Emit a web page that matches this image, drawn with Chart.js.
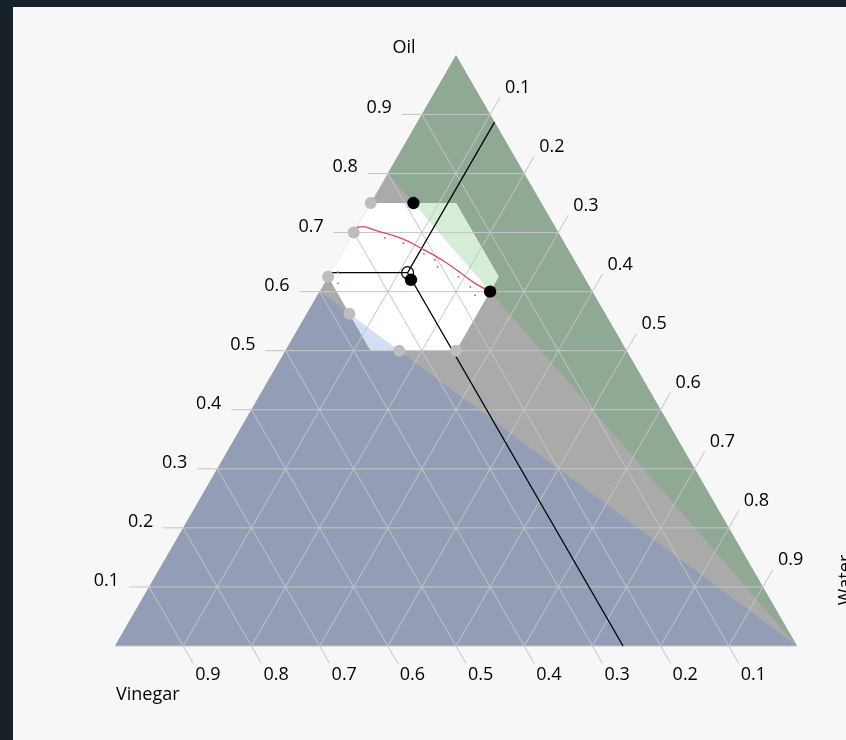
<!DOCTYPE html>
<html>
<head>
<meta charset="utf-8">
<title>Oil / Vinegar / Water</title>
<script src="https://cdn.jsdelivr.net/npm/chart.js@4/dist/chart.umd.min.js"></script>
<style>
  html, body { margin: 0; padding: 0; width: 846px; height: 740px; overflow: hidden; background: #17212a; }
  #panel { position: absolute; left: 13px; top: 7px; width: 833px; height: 733px; background: #f7f7f7; }
  canvas { display: block; }
</style>
</head>
<body>
<div id="panel"><canvas id="chart" width="833" height="733"></canvas></div>
<script>
// ---- data (mixture fractions: oil, water; vinegar = 1 - oil - water) ----
const tickValues = [0.1, 0.2, 0.3, 0.4, 0.5, 0.6, 0.7, 0.8, 0.9];
const tickLabels = ['0.1', '0.2', '0.3', '0.4', '0.5', '0.6', '0.7', '0.8', '0.9'];
const axisTitles = ['Oil', 'Vinegar', 'Water'];

// whole simplex: Oil, Water, Vinegar corners
const simplexOil   = [1, 0, 0];
const simplexWater = [0, 1, 0];
// low oil share of oil+vinegar (below 0.6)
const lowFanOil   = [0, 0.6, 0];
const lowFanWater = [0, 0, 1];
// high oil share of oil+vinegar (above 0.8)
const highFanOil   = [0.8, 1, 0];
const highFanWater = [0, 0, 1];

// constraint region: 0.5<=oil<=0.75, 0<=water<=0.25, 0.125<=vinegar<=0.375
const hexOil   = [0.75, 0.75, 0.625, 0.5, 0.5, 0.625];
const hexWater = [0, 0.125, 0.25, 0.25, 0.125, 0];
// parts of the constraint region inside the high / low fans
const hexHighOil   = [0.75, 0.75, 0.625, 0.6];
const hexHighWater = [0.0625, 0.125, 0.25, 0.25];
const hexLowOil    = [0.5625, 0.5, 0.5];
const hexLowWater  = [0.0625, 0.125, 0.1667];

// design runs
const designOil   = [0.75, 0.70, 0.625, 0.5625, 0.5, 0.5];
const designWater = [0, 0, 0, 0.0625, 0.1667, 0.25];
// selected blends
const blendOil   = [0.75, 0.6, 0.62];
const blendWater = [0.0625, 0.25, 0.124];
// read-off composition
const readOil = [0.632];
const readWater = [0.113];

// fitted contour and its scattered samples
const curveOil   = [0.709, 0.7095, 0.704, 0.690, 0.673, 0.654, 0.634, 0.614, 0.600];
const curveWater = [0, 0.012, 0.029, 0.075, 0.113, 0.152, 0.187, 0.221, 0.25];
const sampleOil   = [0.691, 0.682, 0.664, 0.654, 0.642, 0.625, 0.608, 0.594, 0.633, 0.614];
const sampleWater = [0.050, 0.082, 0.121, 0.142, 0.152, 0.191, 0.217, 0.231, 0.010, 0.020];

// ---- ternary -> cartesian ----
const H = Math.sqrt(3) / 2;
const pt = (o, w) => ({ x: w + o / 2, y: o * H });
const BREAK = { x: null, y: null };
const pts = (oils, waters) => oils.map((o, i) => pt(o, waters[i]));
const ring = (oils, waters) => { const d = pts(oils, waters); d.push(d[0]); return d; };

// ---- layout of the plot frame (pixels) ----
const CANVAS_W = 833, CANVAS_H = 733;
const SIDE = 682;            // triangle side length
const CORNER_X = 102;        // Vinegar corner
const CORNER_Y = 639;
const TICK = 20 / SIDE;      // tick length in composition units

// grid lines at every tick, plus the base edge
const gridData = [pt(0, 0), pt(0, 1), BREAK];
tickValues.forEach(t => {
  gridData.push(pt(t, 0), pt(t, 1 - t), BREAK);          // constant oil
  gridData.push(pt(0, t), pt(1 - t, t), BREAK);          // constant water
  gridData.push(pt(0, 1 - t), pt(1 - t, 0), BREAK);      // constant vinegar
});
// outward tick marks
const tickData = [];
tickValues.forEach(t => {
  tickData.push(pt(t, 0), pt(t, -TICK), BREAK);                      // oil, left side
  tickData.push(pt(1 - t, t), pt(1 - t + TICK, t), BREAK);           // water, right side
  tickData.push(pt(0, 1 - t), pt(-TICK, 1 - t + TICK), BREAK);       // vinegar, base
});
// read-off guide lines to the three sides
const ro = readOil[0], rw = readWater[0];
const guideData = [
  pt(0, ro + rw), pt(ro, rw), pt(1 - rw, rw), BREAK,
  pt(ro, 0), pt(ro, rw)
];

function area(data, color, order) {
  return { data, fill: 'shape', backgroundColor: color, borderColor: color,
           borderWidth: 0, pointRadius: 0, order };
}
function path(data, color, width, order, extra) {
  return Object.assign({ data, fill: false, borderColor: color, borderWidth: width,
           pointRadius: 0, spanGaps: false, order }, extra || {});
}
function dots(data, fillColor, radius, order, extra) {
  return Object.assign({ data, showLine: false, pointRadius: radius, pointBackgroundColor: fillColor,
           pointBorderColor: fillColor, pointBorderWidth: 0, order }, extra || {});
}

const FONT = '18px "Open Sans", "Noto Sans", sans-serif';

const ternaryAxes = {
  id: 'ternaryAxes',
  afterDatasetsDraw(chart) {
    const { ctx } = chart;
    const xs = chart.scales.x, ys = chart.scales.y;
    const px = (o, w) => [xs.getPixelForValue(w + o / 2), ys.getPixelForValue(o * H)];
    ctx.save();
    ctx.fillStyle = '#000';
    ctx.font = FONT;
    tickValues.forEach((t, i) => {
      let p = px(t, -TICK);
      ctx.textAlign = 'right'; ctx.textBaseline = 'alphabetic';
      ctx.fillText(tickLabels[i], p[0] - 10, p[1] - 1);
      p = px(1 - t + TICK, t);
      ctx.textAlign = 'left';
      ctx.fillText(tickLabels[i], p[0] + 5, p[1] - 4.5);
      p = px(-TICK, 1 - t + TICK);
      ctx.fillText(tickLabels[i], p[0] + 2, p[1] + 16.5);
    });
    // component titles next to their corners
    let p = px(1, 0);
    ctx.textAlign = 'center';
    ctx.fillText(axisTitles[0], p[0] - 52, p[1] - 2);
    p = px(0, 0);
    ctx.textAlign = 'left';
    ctx.fillText(axisTitles[1], p[0] + 1, p[1] + 54);
    p = px(0, 1);
    ctx.translate(p[0] + 54, p[1] - 66);
    ctx.rotate(-Math.PI / 2);
    ctx.textAlign = 'center';
    ctx.fillText(axisTitles[2], 0, 0);
    ctx.restore();
  }
};

new Chart(document.getElementById('chart'), {
  type: 'line',
  data: {
    datasets: [
      dots([pt(readOil[0], readWater[0])], 'rgba(0,0,0,0)', 6, 1,
           { pointBorderColor: '#000', pointBorderWidth: 1.2 }),
      dots(pts(blendOil, blendWater), '#000', 6.2, 2),
      dots(pts(designOil, designWater), '#bdbdbd', 6, 3),
      path(pts(curveOil, curveWater), '#e0485e', 1.3, 4, { tension: 0.4 }),
      dots(pts(sampleOil, sampleWater), '#e0485e', 0.9, 4),
      path(guideData, '#000', 1.3, 5),
      path(tickData, '#c3c3c3', 1, 10),
      path(gridData, '#c6c6c6', 1, 10),
      area(ring(hexHighOil, hexHighWater), '#d5edd6', 14),
      area(ring(hexLowOil, hexLowWater), '#d3ddf6', 14),
      area(ring(hexOil, hexWater), '#ffffff', 15),
      area(ring(highFanOil, highFanWater), '#8fa994', 20),
      area(ring(lowFanOil, lowFanWater), '#939db5', 20),
      area(ring(simplexOil, simplexWater), '#aaaaaa', 22)
    ]
  },
  options: {
    responsive: false,
    devicePixelRatio: 1,
    animation: false,
    events: [],
    layout: { padding: 0, autoPadding: false },
    scales: {
      x: { type: 'linear', display: false, bounds: 'data',
           min: -CORNER_X / SIDE, max: (CANVAS_W - CORNER_X) / SIDE },
      y: { type: 'linear', display: false, bounds: 'data',
           min: -(CANVAS_H - CORNER_Y) / SIDE, max: CORNER_Y / SIDE }
    },
    plugins: { legend: { display: false }, tooltip: { enabled: false } }
  },
  plugins: [ternaryAxes]
});
</script>
</body>
</html>
